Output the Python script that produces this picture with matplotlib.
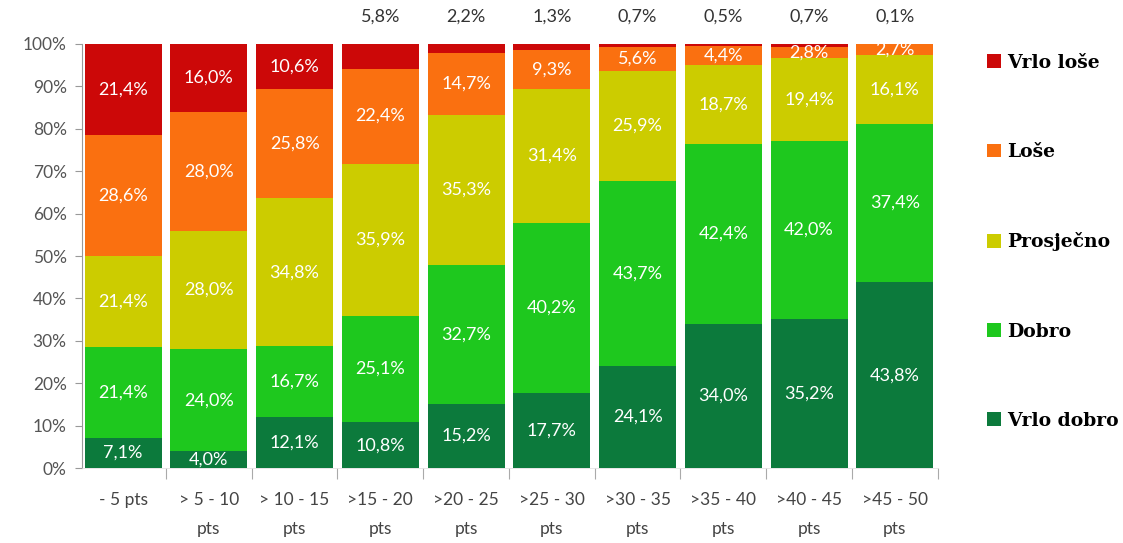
import matplotlib
matplotlib.use("Agg")
import matplotlib.pyplot as plt
from matplotlib.patches import Patch
import numpy as np

categories = ["- 5 pts", "> 5 - 10\npts", "> 10 - 15\npts", ">15 - 20\npts", ">20 - 25\npts",
              ">25 - 30\npts", ">30 - 35\npts", ">35 - 40\npts", ">40 - 45\npts", ">45 - 50\npts"]

vrlo_dobro = [7.1, 4.0, 12.1, 10.8, 15.2, 17.7, 24.1, 34.0, 35.2, 43.8]
dobro = [21.4, 24.0, 16.7, 25.1, 32.7, 40.2, 43.7, 42.4, 42.0, 37.4]
prosjecno = [21.4, 28.0, 34.8, 35.9, 35.3, 31.4, 25.9, 18.7, 19.4, 16.1]
lose = [28.6, 28.0, 25.8, 22.4, 14.7, 9.3, 5.6, 4.4, 2.8, 2.7]
vrlo_lose = [21.4, 16.0, 10.6, 5.8, 2.2, 1.3, 0.7, 0.5, 0.7, 0.1]

series_names = ["Vrlo dobro", "Dobro", "Prosječno", "Loše", "Vrlo loše"]
series_values = [vrlo_dobro, dobro, prosjecno, lose, vrlo_lose]
colors = ["#0c7a3c", "#1ec81e", "#cccc00", "#fa7010", "#cc0808"]

label_font = ["Lato", "DejaVu Sans"]

fig = plt.figure(figsize=(11.23, 5.43), dpi=100)
ax = fig.add_axes([0.073, 0.138, 0.762, 0.781])

x = np.arange(len(categories))
bottom = np.zeros(len(categories))
for si, (name, vals, col) in enumerate(zip(series_names, series_values, colors)):
    vals = np.array(vals)
    ax.bar(x, vals, width=0.9, bottom=bottom, color=col, edgecolor="none", label=name)
    for i, v in enumerate(vals):
        if si == 4 and i >= 3:
            # small top segments are labelled above the bar
            ax.text(x[i], 104.5, f"{v:.1f}%".replace(".", ","), ha="center", va="bottom",
                    fontsize=13, color="#333333", family=label_font, clip_on=False)
        else:
            ax.text(x[i], bottom[i] + v / 2, f"{v:.1f}%".replace(".", ","), ha="center",
                    va="center", fontsize=13, color="white", family=label_font)
    bottom += vals

ax.set_xlim(-0.48, 9.48)
ax.set_ylim(0, 100)
ax.set_yticks(np.arange(0, 101, 10))
ax.set_yticklabels([f"{t}%" for t in range(0, 101, 10)], fontsize=12.5, color="#555555",
                   family=label_font)
ax.set_xticks(x)
ax.set_xticklabels(categories, fontsize=12.5, color="#444444", family=label_font,
                   linespacing=2.0, va="top")
ax.tick_params(axis="x", length=0, pad=17)
ax.set_xticks(np.arange(0.5, 10, 1), minor=True)
ax.tick_params(axis="x", which="minor", length=8, color="#aaaaaa", width=0.8)
ax.tick_params(axis="y", length=5, color="#999999", width=0.8, pad=6)

for s in ["top", "right"]:
    ax.spines[s].set_visible(False)
ax.spines["left"].set_color("#999999")
ax.spines["left"].set_linewidth(0.8)
ax.spines["bottom"].set_color("#dddddd")
ax.spines["bottom"].set_linewidth(0.5)

handles = [Patch(facecolor=c, edgecolor="none", label=n) for n, c in zip(series_names, colors)][::-1]
fig.legend(handles=handles, loc="upper left", bbox_to_anchor=(0.864, 0.932),
           frameon=False, handlelength=0.75, handleheight=0.75, handletextpad=0.3,
           labelspacing=3.8, prop={"family": "DejaVu Serif", "weight": "bold", "size": 13.5})

fig.savefig("out.png", dpi=100, facecolor="white")
